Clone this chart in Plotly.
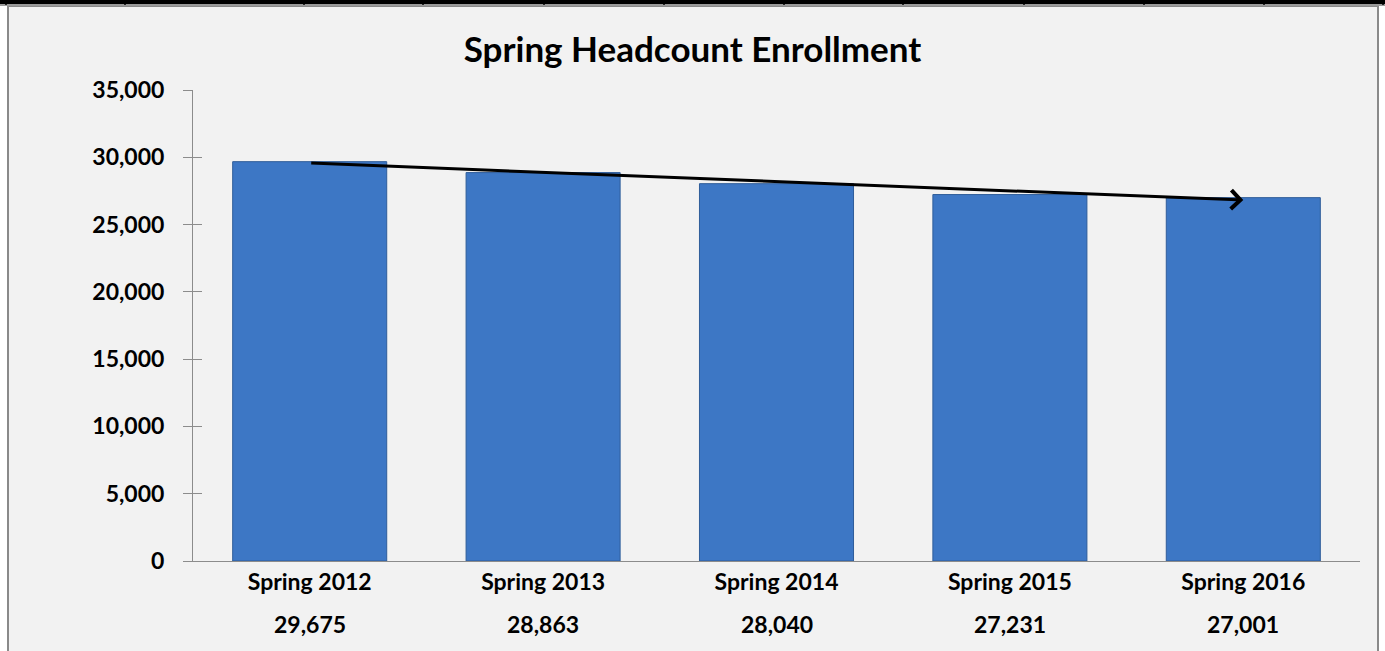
import plotly.graph_objects as go

categories = ["Spring 2012", "Spring 2013", "Spring 2014", "Spring 2015", "Spring 2016"]
headcount = [29675, 28863, 28040, 27231, 27001]
y_ticks = [0, 5000, 10000, 15000, 20000, 25000, 30000, 35000]

W, H = 1385, 651
L, R, T, B = 193, 25, 90, 90
PW = W - L - R
PH = H - T - B


def px_x(px):
    return (px - L) / PW


def px_y(py):
    return (H - B - py) / PH


FONT = "Lato"
BAR_COLOR = "#3d77c5"

fig = go.Figure()
fig.add_trace(go.Bar(
    x=categories, y=headcount,
    marker=dict(color=BAR_COLOR, line=dict(color="#2f5d9a", width=1)),
    hoverinfo="x+y",
))

shapes = []
# chart area background and border
shapes.append(dict(type="rect", xref="paper", yref="paper",
                   x0=px_x(8), x1=px_x(1378), y0=px_y(700), y1=px_y(6),
                   fillcolor="#f2f2f2", line=dict(color="#8a8a8a", width=2), layer="below"))
# shadow under the top strip
shapes.append(dict(type="rect", xref="paper", yref="paper",
                   x0=px_x(0), x1=px_x(W), y0=px_y(6), y1=px_y(3),
                   fillcolor="#9a9a9a", line=dict(width=0), layer="below"))
# black strip at top (table border above the chart)
shapes.append(dict(type="rect", xref="paper", yref="paper",
                   x0=px_x(0), x1=px_x(W), y0=px_y(4), y1=px_y(0),
                   fillcolor="black", line=dict(width=0), layer="above"))
for vx in [6, 125, 304, 423, 544, 664, 784, 903, 1024, 1144, 1264, 1383]:
    shapes.append(dict(type="line", xref="paper", yref="paper",
                       x0=px_x(vx), x1=px_x(vx), y0=px_y(5), y1=px_y(0),
                       line=dict(color="black", width=1.5)))

annotations = []
for c, v in zip(categories, headcount):
    annotations.append(dict(x=c, y=px_y(624), xref="x", yref="paper",
                            text=f"{v:,}", showarrow=False, yanchor="middle",
                            font=dict(family=FONT, size=23, color="#000", weight="bold")))
# trend arrow from first to last bar
annotations.append(dict(x=categories[-1], y=headcount[-1] - 180,
                        ax=categories[0], ay=headcount[0] - 100,
                        xref="x", yref="y", axref="x", ayref="y",
                        text="", showarrow=True, arrowhead=4, arrowsize=1.2,
                        arrowwidth=3, arrowcolor="black", standoff=0))

fig.update_layout(
    width=W, height=H,
    margin=dict(l=L, r=R, t=T, b=B),
    paper_bgcolor="white",
    plot_bgcolor="rgba(0,0,0,0)",
    bargap=0.34,
    showlegend=False,
    title=dict(text="Spring Headcount Enrollment", x=0.5, xanchor="center",
               y=1 - 50 / H, yanchor="middle",
               font=dict(family=FONT, size=35, color="black", weight="bold")),
    xaxis=dict(showline=True, linecolor="#8c8c8c", linewidth=1, ticks="",
               showgrid=False,
               tickfont=dict(family=FONT, size=23, color="#000", weight="bold")),
    yaxis=dict(range=[0, 35000], tickvals=y_ticks, tickformat=",",
               showline=True, linecolor="#8c8c8c", linewidth=1,
               ticks="outside", ticklen=9, tickcolor="#8c8c8c",
               showgrid=False, zeroline=False, ticklabelstandoff=14,
               tickfont=dict(family=FONT, size=23, color="#000", weight="bold")),
    yaxis2=dict(range=[0, 35000], tickvals=y_ticks, overlaying="y",
                ticks="inside", ticklen=9, tickcolor="#8c8c8c",
                showticklabels=False, showgrid=False, zeroline=False,
                showline=False, side="left"),
    shapes=shapes,
    annotations=annotations,
)
# invisible trace to activate the second y axis (inner tick marks)
fig.add_trace(go.Scatter(x=[categories[0]], y=[0], yaxis="y2", mode="markers",
                         marker=dict(opacity=0), hoverinfo="skip", showlegend=False))

fig.write_html("out.html", config={"displayModeBar": False},
               post_script="document.body.style.margin='0';document.body.style.overflow='hidden';")
